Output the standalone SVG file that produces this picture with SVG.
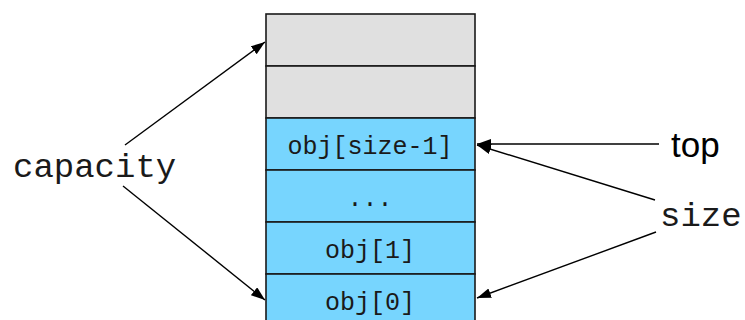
<svg xmlns="http://www.w3.org/2000/svg" width="745" height="320" viewBox="0 0 745 320">
<style>
.cell{stroke:#1a1a1a;stroke-width:1.6}
.empty{fill:#e0e0e0}
.used{fill:#77d5fe}
.mono{font-family:"Liberation Mono","DejaVu Sans Mono",monospace;fill:#1a1a1a}
.cellt{font-size:25px;text-anchor:middle}
.big{font-size:34px}
.sans{font-family:"Liberation Sans",Arial,sans-serif;font-size:35px;fill:#000}
.conn{stroke:#000;stroke-width:1.4;fill:none;marker-end:url(#ah)}
</style>
<defs>
<marker id="ah" markerUnits="userSpaceOnUse" markerWidth="15" markerHeight="11" refX="14" refY="5" orient="auto">
<path d="M0,0 L14,5 L0,10 z" fill="#000"/>
</marker>
</defs>
<g id="cell-empty-top"><rect class="cell empty" x="266" y="14" width="209" height="52"/></g>
<g id="cell-empty-2"><rect class="cell empty" x="266" y="66" width="209" height="52"/></g>
<g id="cell-top"><rect class="cell used" x="266" y="118" width="209" height="52"/><text class="mono cellt" x="370" y="154">obj[size-1]</text></g>
<g id="cell-dots"><rect class="cell used" x="266" y="170" width="209" height="52"/><text class="mono cellt" x="370" y="206">...</text></g>
<g id="cell-1"><rect class="cell used" x="266" y="222" width="209" height="52"/><text class="mono cellt" x="370" y="258">obj[1]</text></g>
<g id="cell-0"><rect class="cell used" x="266" y="274" width="209" height="52"/><text class="mono cellt" x="370" y="310">obj[0]</text></g>
<g id="label-capacity"><text class="mono big" x="13" y="177">capacity</text></g>
<g id="label-top"><text class="sans" x="671" y="157">top</text></g>
<g id="label-size"><text class="mono big" x="660" y="226">size</text></g>
<g id="connectors">
<line class="conn" x1="125" y1="145" x2="265" y2="42"/>
<line class="conn" x1="123" y1="186" x2="265" y2="300"/>
<line class="conn" x1="659" y1="144" x2="477" y2="144"/>
<line class="conn" x1="655" y1="200" x2="477" y2="145"/>
<line class="conn" x1="656" y1="232" x2="477" y2="298"/>
</g>
</svg>
